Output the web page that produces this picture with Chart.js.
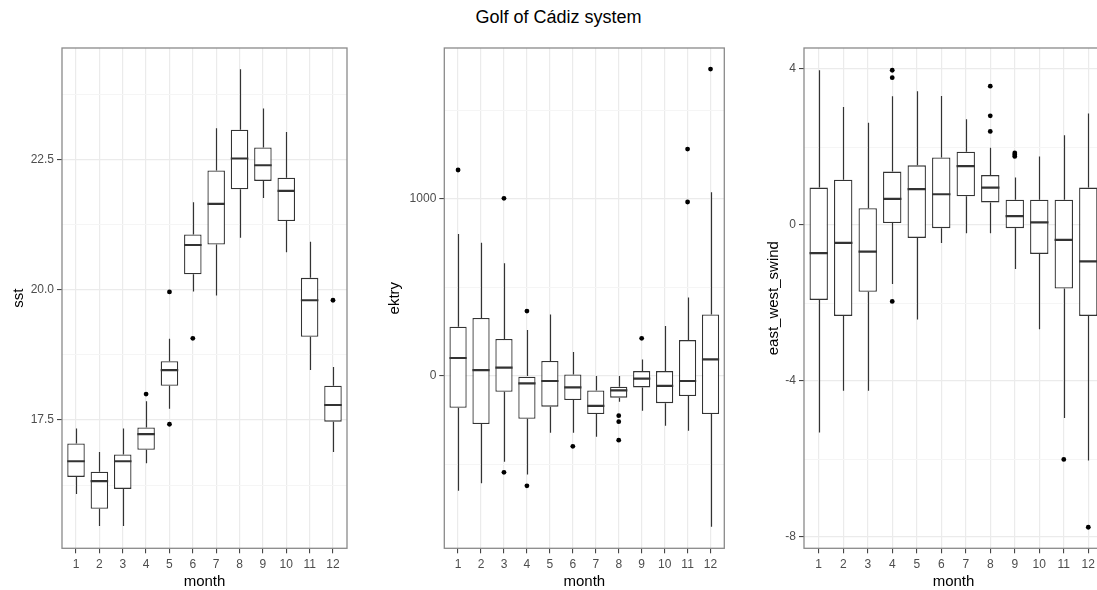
<!DOCTYPE html>
<html><head><meta charset="utf-8">
<script src="https://cdn.jsdelivr.net/npm/chart.js@4.4.0/dist/chart.umd.min.js"></script>
<style>
html,body{margin:0;padding:0;width:1097px;height:590px;overflow:hidden;background:#fff;position:relative}
canvas{position:absolute;top:0}
#title{position:absolute;top:8px;left:0;width:1117px;text-align:center;font:18px/18px "Liberation Sans",Arial,sans-serif;color:#000;white-space:nowrap}
</style></head><body>
<div id="title">Golf of Cádiz system</div>
<canvas id="c1" width="360" height="590" style="left:0px"></canvas>
<canvas id="c2" width="355" height="590" style="left:375px"></canvas>
<canvas id="c3" width="360" height="590" style="left:750px"></canvas>
<script>
const months = [1,2,3,4,5,6,7,8,9,10,11,12];

// sst
const sstMin = [16.08,15.47,15.47,16.67,17.72,19.97,19.89,21.00,21.76,20.72,18.46,16.89];
const sstQ1  = [16.41,15.80,16.18,16.93,18.16,20.30,20.87,21.93,22.09,21.32,19.10,17.47];
const sstMed = [16.71,16.33,16.71,17.23,18.46,20.86,21.65,22.52,22.39,21.90,19.80,17.79];
const sstQ3  = [17.05,16.51,16.84,17.36,18.63,21.06,22.29,23.07,22.73,22.15,20.23,18.16];
const sstMax = [17.34,16.89,17.34,17.86,19.06,21.68,23.10,24.23,23.48,23.03,20.92,18.52];
const sstOutMonth = [4,5,5,6,12];
const sstOutValue = [18.00,19.96,17.42,19.07,19.80];
const sstMajorTicks = [17.5,20,22.5];
const sstMinorTicks = [16.25,18.75,21.25,23.75];
const sstTickLabels = ['17.5','20.0','22.5'];

// ektry
const ekMin = [-648,-606,-484,-556,-320,-320,-343,-145,-196,-281,-309,-851];
const ekQ1  = [-179,-271,-89,-241,-173,-136,-215,-122,-64,-153,-113,-215];
const ekMed = [102,34,47,-41,-28,-64,-168,-81,-15,-56,-28,94];
const ekQ3  = [279,328,209,0,85,9,-81,-60,28,28,203,348];
const ekMax = [802,753,637,260,348,136,0,0,94,282,443,1038];
const ekOutMonth = [1,3,3,4,4,6,8,8,8,9,11,11,12];
const ekOutValue = [1164,1004,-544,367,-620,-397,-224,-258,-362,213,1282,983,1734];
const ekMajorTicks = [0,1000];
const ekMinorTicks = [-500,500,1500];
const ekTickLabels = ['0','1000'];

// east_west_swind
const swMin = [-5.32,-4.25,-4.25,-1.51,-2.42,-0.46,-0.21,-0.21,-1.13,-2.67,-4.95,-6.04];
const swQ1  = [-1.92,-2.33,-1.71,0.05,-0.33,-0.08,0.74,0.58,-0.08,-0.74,-1.63,-2.33];
const swMed = [-0.72,-0.46,-0.68,0.67,0.92,0.79,1.51,0.96,0.23,0.07,-0.38,-0.93];
const swQ3  = [0.96,1.16,0.43,1.37,1.53,1.73,1.88,1.28,0.65,0.65,0.65,0.96];
const swMax = [3.97,3.03,2.62,3.30,3.43,3.31,2.71,1.98,1.22,1.76,2.30,2.86];
const swOutMonth = [4,4,4,8,8,8,9,9,9,11,12];
const swOutValue = [3.97,3.78,-1.96,3.56,2.80,2.40,1.85,1.80,1.76,-6.01,-7.75];
const swMajorTicks = [-8,-4,0,4];
const swMinorTicks = [-6,-2,2];
const swTickLabels = ['-8','-4','0','4'];

Chart.defaults.font.family = '"Liberation Sans", Arial, sans-serif';
Chart.defaults.animation = false;

function makeChart(id, d, L) {
  const plugin = {
    id: 'boxextras',
    beforeDatasetsDraw(chart) {
      const {ctx, chartArea: a, scales: {x, y}} = chart;
      ctx.save();
      ctx.beginPath(); ctx.rect(a.left, a.top, a.right - a.left, a.bottom - a.top); ctx.clip();
      ctx.strokeStyle = '#333333'; ctx.lineWidth = 1.2;
      months.forEach((m, i) => {
        const px = Math.round(x.getPixelForValue(m)) + 0.5;
        ctx.beginPath();
        ctx.moveTo(px, y.getPixelForValue(d.q3[i])); ctx.lineTo(px, y.getPixelForValue(d.max[i]));
        ctx.moveTo(px, y.getPixelForValue(d.q1[i])); ctx.lineTo(px, y.getPixelForValue(d.min[i]));
        ctx.stroke();
      });
      ctx.restore();
    },
    afterDatasetsDraw(chart) {
      const {ctx, chartArea: a, scales: {x, y}} = chart;
      ctx.save();
      ctx.beginPath(); ctx.rect(a.left, a.top, a.right - a.left, a.bottom - a.top); ctx.clip();
      ctx.strokeStyle = '#333333'; ctx.lineWidth = 2.2;
      months.forEach((m, i) => {
        const l = x.getPixelForValue(m - 0.375), r = x.getPixelForValue(m + 0.375);
        const py = y.getPixelForValue(d.med[i]);
        ctx.beginPath(); ctx.moveTo(l, py); ctx.lineTo(r, py); ctx.stroke();
      });
      ctx.restore();
    },
    afterDraw(chart) {
      const {ctx, chartArea: a} = chart;
      ctx.save();
      ctx.strokeStyle = '#8a8a8a'; ctx.lineWidth = 1.3;
      ctx.strokeRect(a.left, a.top, a.right - a.left, a.bottom - a.top);
      ctx.restore();
    }
  };
  const isMajor = v => d.major.some(t => Math.abs(t - v) < 1e-9);
  return new Chart(document.getElementById(id), {
    type: 'bar',
    data: {
      datasets: [
        {
          type: 'scatter', order: 0,
          data: d.outM.map((m, i) => ({x: m, y: d.outV[i]})),
          pointRadius: 2.4, pointBackgroundColor: '#000', pointBorderWidth: 0, pointHoverRadius: 2.4
        },
        {
          type: 'bar', order: 1,
          data: months.map((m, i) => ({x: m, y: [d.q1[i], d.q3[i]]})),
          backgroundColor: '#ffffff', borderColor: '#333333', borderWidth: 1.3,
          borderSkipped: false, barPercentage: 0.75, categoryPercentage: 1.0
        }
      ]
    },
    options: {
      responsive: false, devicePixelRatio: 1, animation: false,
      layout: {padding: {left: 0, right: L.rp, top: 48, bottom: 0}},
      plugins: {legend: {display: false}, tooltip: {enabled: false}, title: {display: false}},
      scales: {
        x: {
          type: 'linear', min: 0.4, max: 12.6, offset: false,
          afterBuildTicks: s => { s.ticks = months.map(v => ({value: v})); },
          afterFit: s => { s.height = 41.7; },
          ticks: {callback: v => String(v), autoSkip: false, maxRotation: 0, color: '#4d4d4d', font: {size: 12}, padding: 4},
          grid: {offset: false, color: '#ebebeb', lineWidth: 1.2, tickLength: 5, tickColor: '#333333', tickWidth: 1},
          border: {display: false},
          title: {display: true, text: 'month', color: '#000', font: {size: 15, lineHeight: 1.1}, padding: {top: 0, bottom: 0}}
        },
        y: {
          type: 'linear', min: d.range[0], max: d.range[1],
          afterBuildTicks: s => { s.ticks = d.major.concat(d.minor).sort((a, b) => a - b).map(v => ({value: v})); },
          afterFit: s => { s.width = L.yw; },
          ticks: {
            callback: v => { const k = d.major.findIndex(t => Math.abs(t - v) < 1e-9); return k >= 0 ? d.labels[k] : ''; },
            autoSkip: false, color: '#4d4d4d', font: {size: 12}, padding: 3
          },
          grid: {
            color: c => isMajor(c.tick.value) ? '#ebebeb' : '#f5f5f5',
            lineWidth: c => isMajor(c.tick.value) ? 1.2 : 1,
            tickLength: 5, tickWidth: 1,
            tickColor: c => isMajor(c.tick.value) ? '#333333' : 'rgba(0,0,0,0)'
          },
          border: {display: false},
          title: {display: true, text: d.title, color: '#000', font: {size: 15, lineHeight: 1.2}, padding: {top: L.tp, bottom: 0}}
        }
      }
    },
    plugins: [plugin]
  });
}

makeChart('c1', {min: sstMin, q1: sstQ1, med: sstMed, q3: sstQ3, max: sstMax, outM: sstOutMonth, outV: sstOutValue,
  major: sstMajorTicks, minor: sstMinorTicks, labels: sstTickLabels, range: [15.04, 24.64], title: 'sst'},
  {yw: 62, rp: 13, tp: 10});
makeChart('c2', {min: ekMin, q1: ekQ1, med: ekMed, q3: ekQ3, max: ekMax, outM: ekOutMonth, outV: ekOutValue,
  major: ekMajorTicks, minor: ekMinorTicks, labels: ekTickLabels, range: [-973, 1853], title: 'ektry'},
  {yw: 69.3, rp: 5.7, tp: 10.5});
makeChart('c3', {min: swMin, q1: swQ1, med: swMed, q3: swQ3, max: swMax, outM: swOutMonth, outV: swOutValue,
  major: swMajorTicks, minor: swMinorTicks, labels: swTickLabels, range: [-8.29, 4.54], title: 'east_west_swind'},
  {yw: 54, rp: 7, tp: 15});
</script>
</body></html>
